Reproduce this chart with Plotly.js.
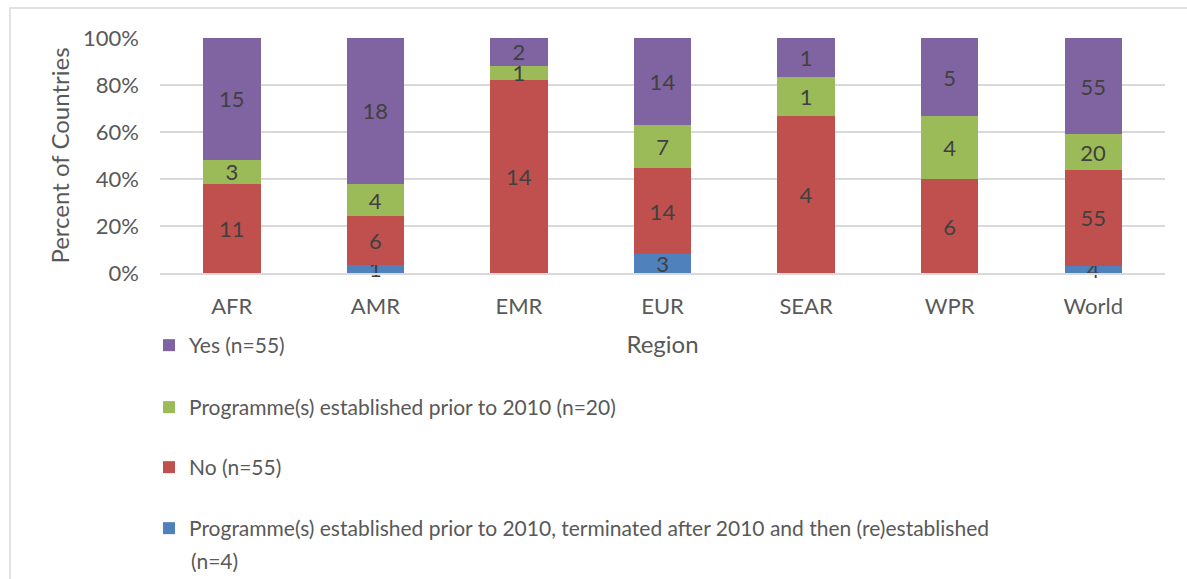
<!DOCTYPE html>
<html>
<head>
<meta charset="utf-8">
<script src="https://cdn.plot.ly/plotly-3.0.1.min.js"></script>
<style>html,body{margin:0;padding:0;background:#fff;}#chart{width:1187px;height:579px;}</style>
</head>
<body>
<div id="chart"></div>
<script>
const regions = ["AFR", "AMR", "EMR", "EUR", "SEAR", "WPR", "World"];
const reestablished = [0, 1, 0, 3, 0, 0, 4];
const no = [11, 6, 14, 14, 4, 6, 55];
const prior2010 = [3, 4, 1, 7, 1, 4, 20];
const yes = [15, 18, 2, 14, 1, 5, 55];

// legend labels (the blue one wraps onto a second line in the reference)
const seriesNames = [
  "Programme(s) established prior to 2010, terminated after 2010 and then (re)established",
  "No (n=55)",
  "Programme(s) established prior to 2010 (n=20)",
  "Yes (n=55)"
];
const wrappedLine = "(n=4)";
const seriesColors = ["#4F81BD", "#C0504D", "#9BBB59", "#8064A2"];
const seriesValues = [reestablished, no, prior2010, yes];
const legendIds = ["legend4", "legend3", "legend2", "legend"];

const FONT = "Lato, 'Open Sans', sans-serif";

const traces = seriesValues.map((vals, i) => ({
  type: "bar",
  x: regions,
  y: vals,
  name: seriesNames[i],
  legend: legendIds[i],
  marker: { color: seriesColors[i], line: { width: 0 } },
  text: vals.map(v => v === 0 ? "" : String(v)),
  textposition: "inside",
  insidetextanchor: "middle",
  textangle: 0,
  constraintext: "none",
  insidetextfont: { family: FONT, size: 22, color: "#404040" },
  cliponaxis: false,
  hoverinfo: "x+y+name"
}));

// plot area: x 160..1165, y 38..273 (px)
const plotL = 160, plotW = 1005, plotB = 273, plotH = 235;
function px(x) { return (x - plotL) / plotW; }
function py(y) { return (plotB - y) / plotH; }
function legendAt(ypxTop) {
  return {
    x: px(149), xanchor: "left",
    y: py(ypxTop), yanchor: "top",
    orientation: "v",
    bgcolor: "rgba(0,0,0,0)",
    borderwidth: 0,
    font: { family: FONT, size: 21, color: "#595959" },
    itemclick: false, itemdoubleclick: false
  };
}

const layout = {
  width: 1187,
  height: 579,
  margin: { l: 160, r: 22, t: 38, b: 306 },
  paper_bgcolor: "#ffffff",
  plot_bgcolor: "#ffffff",
  barmode: "stack",
  barnorm: "percent",
  bargap: 0.6,
  font: { family: FONT, color: "#595959", size: 21 },
  xaxis: {
    type: "category",
    showgrid: false,
    showline: true,
    linecolor: "#d9d9d9",
    linewidth: 1.5,
    ticks: "",
    ticklabelstandoff: 13,
    tickfont: { family: FONT, size: 22, color: "#595959" },
    title: { text: "Region", font: { family: FONT, size: 24, color: "#595959" }, standoff: 18 }
  },
  yaxis: {
    range: [0, 100.02],
    tickvals: [0, 20, 40, 60, 80, 100],
    ticktext: ["0%", "20%", "40%", "60%", "80%", "100%"],
    showgrid: true,
    gridcolor: "#d9d9d9",
    gridwidth: 1.5,
    zeroline: false,
    showline: false,
    ticks: "",
    ticklabelstandoff: 20,
    tickfont: { family: FONT, size: 22, color: "#595959" },
    title: { text: "Percent of Countries", font: { family: FONT, size: 24, color: "#595959" }, standoff: 6 }
  },
  showlegend: true,
  legend: legendAt(325),
  legend2: legendAt(387),
  legend3: legendAt(447),
  legend4: legendAt(508),
  annotations: [{
    xref: "paper", yref: "paper",
    x: px(189), y: py(560),
    xanchor: "left", yanchor: "middle",
    text: wrappedLine, showarrow: false,
    font: { family: FONT, size: 21, color: "#595959" }
  }],
  shapes: [{
    type: "rect", xref: "paper", yref: "paper",
    x0: px(10), x1: 1.2,
    y0: -2, y1: py(8),
    line: { color: "#d9d9d9", width: 1.5 },
    fillcolor: "rgba(0,0,0,0)",
    layer: "below"
  }]
};

Plotly.newPlot("chart", traces, layout, { displayModeBar: false, responsive: false });
</script>
</body>
</html>
